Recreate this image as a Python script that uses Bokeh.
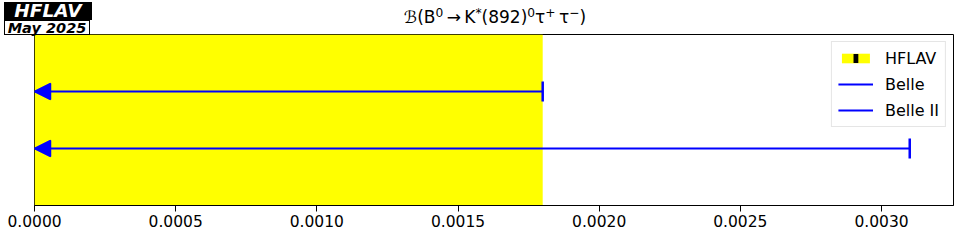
import math
from bokeh.plotting import figure
from bokeh.layouts import column
from bokeh.models import (ColumnDataSource, Arrow, NormalHead, Legend, LegendItem,
                          FixedTicker, PrintfTickFormatter, Div)
from bokeh.embed import file_html
from bokeh.resources import INLINE

# ---- data ----
experiments = ["Belle", "Belle II"]
upper_limits = [0.0018, 0.0031]
row_y = [2, 1]
hflav_label = "HFLAV"
hflav_limit = 0.0018
x_ticks = [0.0, 0.0005, 0.0010, 0.0015, 0.0020, 0.0025, 0.0030]
logo_top = "HFLAV"
logo_bottom = "May 2025"

FONT = "DejaVu Sans"
BLUE = "#0000ff"

SUP = '<sup style="font-size:72%;vertical-align:0.5em;line-height:0;">{}</sup>'
title_html = ("\u212C(B" + SUP.format("0") + "\u2009\u2192\u2009K" + SUP.format("*") + "(892)"
              + SUP.format("0") + "\u03C4" + SUP.format("+") + "\u2009\u03C4" + SUP.format("\u2212") + ")")

xmax = max(upper_limits) * 1.05

p = figure(width=960, height=207, x_range=(0, xmax), y_range=(0, 3),
           output_backend="svg", toolbar_location=None,
           min_border_left=34, min_border_right=7, min_border_top=1, min_border_bottom=35)
p.title.visible = False
p.grid.visible = False
p.yaxis.visible = False
p.outline_line_color = "black"
p.outline_line_width = 1
p.outline_line_alpha = 1
p.background_fill_color = "white"
p.border_fill_color = "white"

# HFLAV band
band_src = ColumnDataSource(dict(left=[0], right=[hflav_limit], bottom=[0], top=[3]))
band = p.quad(left="left", right="right", bottom="bottom", top="top", source=band_src,
              fill_color="yellow", line_color=None)
# legend-only marker for the HFLAV average (a thin vertical tick)
hmark = p.scatter(x=[float("nan")], y=[float("nan")], marker="dash", size=1.2,
                  line_color="black", line_width=9)

# measurements
src = ColumnDataSource(dict(x0=[0] * len(upper_limits), x1=upper_limits, y=row_y))
seg_renderers = []
for i, name in enumerate(experiments):
    s = ColumnDataSource(dict(x0=[0], x1=[upper_limits[i]], y=[row_y[i]]))
    r = p.segment(x0="x0", y0="y", x1="x1", y1="y", source=s, line_color=BLUE, line_width=2)
    seg_renderers.append(r)
    p.scatter(x="x1", y="y", source=s, marker="dash", angle=math.pi / 2, size=20,
              line_color=BLUE, line_width=2.5)

p.add_layout(Arrow(end=NormalHead(size=16, fill_color=BLUE, line_color=BLUE, line_width=1.5),
                   x_start="x1", y_start="y", x_end="x0", y_end="y", source=src,
                   line_color=BLUE, line_width=0, line_alpha=0))

# axis
ax = p.xaxis[0]
ax.ticker = FixedTicker(ticks=x_ticks)
ax.formatter = PrintfTickFormatter(format="%.4f")
ax.major_label_text_font = FONT
ax.major_label_text_font_size = "15.5px"
ax.major_label_text_color = "black"
ax.major_tick_out = 6
ax.major_tick_in = 0
ax.minor_tick_out = 0
ax.minor_tick_in = 0
ax.axis_line_color = "black"
ax.major_tick_line_color = "black"
ax.major_label_standoff = 3

legend = Legend(items=[
    LegendItem(label=hflav_label, renderers=[band, hmark]),
    LegendItem(label=experiments[0], renderers=[seg_renderers[0]]),
    LegendItem(label=experiments[1], renderers=[seg_renderers[1]]),
], location="top_right")
legend.label_text_font = FONT
legend.label_text_font_size = "16px"
legend.label_text_color = "black"
legend.glyph_width = 35
legend.glyph_height = 12
legend.label_height = 20
legend.spacing = 6
legend.padding = 6
legend.margin = 7
legend.label_standoff = 12
legend.border_line_color = "#cccccc"
legend.background_fill_alpha = 0.8
p.add_layout(legend)

header_html = f"""
<div style="position:relative;width:960px;height:33px;font-family:'DejaVu Sans';background:white;">
  <div style="position:absolute;left:4px;top:2px;width:88px;height:18px;background:black;color:white;
              font-weight:bold;font-style:italic;font-size:18.5px;line-height:18px;text-align:center;">{logo_top}</div>
  <div style="position:absolute;left:4px;top:20px;width:86px;height:15px;background:white;color:black;
              border:1px solid black;font-weight:bold;font-style:italic;font-size:14.5px;line-height:15px;
              text-align:center;z-index:2;">{logo_bottom}</div>
  <div style="position:absolute;left:295px;width:400px;top:6px;font-size:17px;line-height:22px;
              white-space:nowrap;text-align:center;color:black;">{title_html}</div>
</div>
"""
header = Div(text=header_html, width=960, height=33, margin=0)

layout = column(header, p, spacing=0)

open("out.html", "w").write(file_html(layout, INLINE))
